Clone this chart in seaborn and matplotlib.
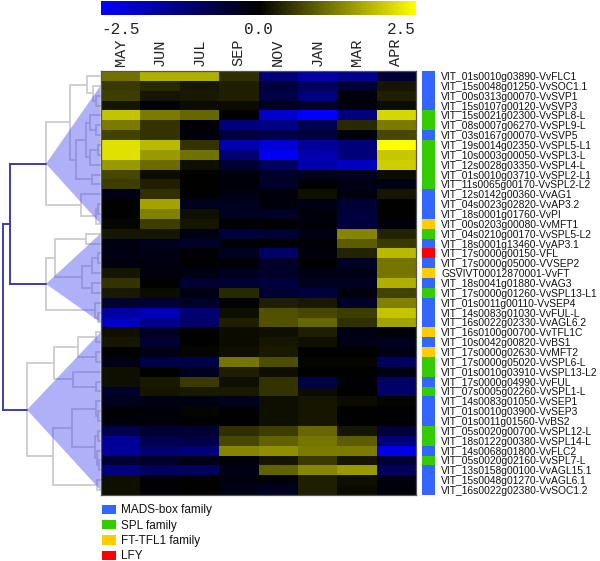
import matplotlib
matplotlib.use("Agg")
import matplotlib.pyplot as plt
from matplotlib.colors import LinearSegmentedColormap, ListedColormap
from matplotlib.patches import Patch, Polygon
import numpy as np
import seaborn as sns

months = ["MAY", "JUN", "JUL", "SEP", "NOV", "JAN", "MAR", "APR"]

genes = [
    "VIT_01s0010g03890-VvFLC1", "VIT_15s0048g01250-VvSOC1.1", "VIT_00s0313g00070-VvSVP1",
    "VIT_15s0107g00120-VvSVP3", "VIT_15s0021g02300-VvSPL8-L", "VIT_08s0007g06270-VvSPL9-L",
    "VIT_03s0167g00070-VvSVP5", "VIT_19s0014g02350-VvSPL5-L1", "VIT_10s0003g00050-VvSPL3-L",
    "VIT_12s0028g03350-VvSPL4-L", "VIT_01s0010g03710-VvSPL2-L1", "VIT_11s0065g00170-VvSPL2-L2",
    "VIT_12s0142g00360-VvAG1", "VIT_04s0023g02820-VvAP3.2", "VIT_18s0001g01760-VvPI",
    "VIT_00s0203g00080-VvMFT1", "VIT_04s0210g00170-VvSPL5-L2", "VIT_18s0001g13460-VvAP3.1",
    "VIT_17s0000g00150-VFL", "VIT_17s0000g05000-VVSEP2", "GSVIVT00012870001-VvFT",
    "VIT_18s0041g01880-VvAG3", "VIT_17s0000g01260-VvSPL13-L1", "VIT_01s0011g00110-VvSEP4",
    "VIT_14s0083g01030-VvFUL-L", "VIT_16s0022g02330-VvAGL6.2", "VIT_16s0100g00700-VvTFL1C",
    "VIT_10s0042g00820-VvBS1", "VIT_17s0000g02630-VvMFT2", "VIT_17s0000g05020-VvSPL6-L",
    "VIT_01s0010g03910-VvSPL13-L2", "VIT_17s0000g04990-VvFUL", "VIT_07s0005g02260-VvSPL1-L",
    "VIT_14s0083g01050-VvSEP1", "VIT_01s0010g03900-VvSEP3", "VIT_01s0011g01560-VvBS2",
    "VIT_05s0020g00700-VvSPL12-L", "VIT_18s0122g00380-VvSPL14-L", "VIT_14s0068g01800-VvFLC2",
    "VIT_05s0020g02160-VvSPL7-L", "VIT_13s0158g00100-VvAGL15.1", "VIT_15s0048g01270-VvAGL6.1",
    "VIT_16s0022g02380-VvSOC1.2",
]

# 0 MADS-box, 1 SPL, 2 FT-TFL1, 3 LFY
families = [0, 0, 0, 0, 1, 1, 0, 1, 1, 1, 1, 1, 0, 0, 0, 2, 1, 0, 3, 0, 2, 0,
            1, 0, 0, 0, 2, 0, 2, 1, 1, 0, 1, 0, 0, 0, 1, 1, 0, 1, 0, 0, 0]
family_names = ["MADS-box family", "SPL family", "FT-TFL1 family", "LFY"]
family_colors = ["#3366ff", "#33cc00", "#ffcc00", "#ff0000"]

expression = [
    [1.1, 1.7, 1.7, 0.45, -1.2, -1.6, -1.4, -0.5],
    [0.55, 0.4, 0.2, 0.3, -0.6, -0.9, -0.5, 0.2],
    [0.6, 0.2, 0.25, 0.3, -0.7, -1.2, -0.1, 0.3],
    [0.2, -0.1, 0.1, 0.1, -0.3, -0.4, -0.1, 0.1],
    [1.9, 1.2, 1.0, -0.05, -2.0, -2.5, -1.2, 2.1],
    [1.2, 0.5, -0.05, -1.2, -1.3, -0.8, 0.4, 1.2],
    [0.65, 0.5, -0.1, -0.6, -0.7, -0.6, -0.1, 0.7],
    [2.2, 1.8, 0.5, -1.7, -2.1, -1.5, -1.2, 2.5],
    [2.2, 1.5, 1.1, -1.1, -2.4, -1.7, -1.2, 1.95],
    [1.5, 1.05, 0.15, -0.5, -0.9, -1.7, -1.9, 2.0],
    [0.7, 0.1, 0.0, -0.1, -0.4, -0.3, -0.3, 0.1],
    [0.6, 0.3, 0.0, -0.1, -0.4, -0.05, -0.2, -0.2],
    [-0.2, 0.45, 0.0, -0.2, -0.1, 0.15, -0.15, 0.2],
    [0.0, 1.6, -0.3, -0.3, -0.1, -0.2, -0.5, 0.0],
    [0.0, 1.25, 0.15, -0.3, -0.4, -0.1, -0.6, 0.0],
    [0.05, 0.6, 0.2, -0.05, -0.05, -0.1, -0.6, -0.1],
    [0.2, 0.2, -0.2, -0.6, -0.5, -0.2, 1.3, 0.35],
    [-0.2, -0.3, -0.4, -0.1, -0.05, -0.05, 0.9, 0.55],
    [-0.2, -0.2, -0.05, -0.3, -1.0, -0.1, 0.35, 1.8],
    [-0.15, -0.15, -0.05, -0.1, -0.4, -0.05, -0.4, 1.15],
    [0.2, -0.15, -0.2, -0.3, -0.4, -0.2, -0.2, 1.15],
    [0.5, 0.0, -0.5, -0.5, -0.6, -0.3, -0.3, 1.7],
    [0.25, 0.1, -0.2, 0.4, -0.5, -0.6, -0.15, 0.65],
    [-0.5, -0.5, -0.4, -0.05, 0.3, 0.25, -0.4, 1.25],
    [-1.6, -1.8, -1.1, 0.15, 0.8, 0.7, 0.6, 1.9],
    [-1.9, -1.4, -1.0, 0.3, 0.8, 1.0, 0.45, 1.6],
    [0.15, -0.35, 0.0, 0.1, 0.15, 0.3, -0.2, -0.1],
    [0.2, -0.5, 0.0, 0.1, 0.2, 0.15, -0.2, -0.3],
    [0.0, -0.2, 0.05, 0.15, 0.25, 0.0, 0.0, -0.2],
    [-0.2, -0.7, -0.7, 1.15, 0.75, 0.05, 0.05, -0.9],
    [0.15, 0.0, -0.3, 0.3, 0.15, 0.0, 0.0, -0.2],
    [0.15, 0.25, 0.55, 0.15, 0.5, -0.7, -0.05, -1.0],
    [-0.4, 0.2, 0.25, 0.25, 0.5, 0.1, 0.0, -1.0],
    [-0.3, -0.2, -0.2, -0.3, 0.15, 0.2, 0.1, 0.05],
    [-0.05, -0.1, 0.05, -0.05, 0.15, 0.2, 0.0, -0.05],
    [-0.1, -0.1, 0.0, 0.0, 0.15, 0.2, 0.0, -0.05],
    [-0.8, -0.5, -0.5, 0.45, 0.6, 1.0, 0.2, -0.6],
    [-1.5, -0.8, -0.7, 0.7, 0.95, 1.15, 0.9, -1.2],
    [-1.5, -1.1, -1.2, 1.3, 1.4, 1.2, 1.2, -2.2],
    [-0.5, -0.4, -0.2, -0.1, 0.2, 0.55, 0.2, -0.5],
    [-1.2, -0.9, -0.9, -0.2, 0.95, 1.3, 1.5, -0.9],
    [0.15, -0.05, 0.0, -0.15, -0.15, 0.3, 0.15, -0.1],
    [0.15, -0.05, 0.0, -0.2, -0.3, 0.3, 0.1, -0.1],
]

# dendrogram: (distance, upper child, lower child), a leaf is a row number
cluster_a = (46, (70, (87, 0, (93, 1, (96, 2, 3))),
                  (76, (86, (90, 4, (96, 5, 6)), (90, (98, 7, 8), 9)), (92, 10, 11))),
             (81, 12, (96, (98, 13, 14), 15)))
cluster_b = (46, (55, (86, 16, 17), (82, (92, (98, 18, 19), 20), (92, 21, 22))),
             (95, 23, (98, 24, 25)))
cluster_c = (27, (53.5, (78, (96, 26, 27), (96, 28, 29)), (73, 30, (96, 31, 32))),
             (52.5, (72, (96, 33, (98, 34, 35)), (95, (98, 36, 37), (97, 38, (99, 39, 40)))),
              (97, 41, 42)))
upper_join = 10
root_join = 2.5
# first and last row covered by each shaded wedge
wedge_rows = [(1, 15), (16, 25), (26, 42)]

WIDTH, HEIGHT = 600, 561
GRAY = "#cccccc"
NAVY = "#3c3cb0"
sns.set_theme(style="white")
plt.rcParams["font.family"] = ["Liberation Sans", "DejaVu Sans"]
LEAF_X = 100.5


def px_axes(fig, x0, y0, x1, y1):
    return fig.add_axes([x0 / WIDTH, 1 - y1 / HEIGHT, (x1 - x0) / WIDTH, (y1 - y0) / HEIGHT])


def draw_tree(ax, node):
    # returns the row position of the node, leaves sit at the heatmap edge
    if not isinstance(node, tuple):
        return node + 0.5, LEAF_X
    dist, upper, lower = node
    y1, x1 = draw_tree(ax, upper)
    y2, x2 = draw_tree(ax, lower)
    ax.plot([x1, dist, dist, x2], [y1, y1, y2, y2], color=GRAY, lw=1.3, zorder=1, solid_joinstyle="miter")
    return (y1 + y2) / 2, dist


blue_black_yellow = LinearSegmentedColormap.from_list("byk", ["#0000ff", "#000000", "#ffff00"])
data = np.array(expression)

fig = plt.figure(figsize=(WIDTH / 100, HEIGHT / 100), dpi=100, facecolor="white")
ax_cbar = px_axes(fig, 101, 1, 416, 15)
ax_heat = px_axes(fig, 101, 71, 416, 495)
ax_side = px_axes(fig, 421.5, 71, 435, 495)
ax_tree = px_axes(fig, 0, 71, LEAF_X, 495)

sns.heatmap(data, ax=ax_heat, cmap=blue_black_yellow, vmin=-2.5, vmax=2.5,
            xticklabels=months, yticklabels=False, cbar_ax=ax_cbar,
            cbar_kws={"orientation": "horizontal", "ticks": [-2.5, 0, 2.5]})
ax_heat.xaxis.tick_top()
ax_heat.tick_params(axis="x", length=0, pad=3.5)
for label in ax_heat.get_xticklabels():
    label.set(rotation=90, family="Liberation Mono", fontsize=11, color="#222222", ha="center", va="bottom")
for spine in ax_heat.spines.values():
    spine.set(visible=True, color="#555555", linewidth=0.9)

ax_cbar.tick_params(axis="x", length=0, pad=5)
ax_cbar.set_xticklabels(["-2.5", "0.0", "2.5"], family="Liberation Mono", fontsize=11.5, color="#222222")
tick_labels = ax_cbar.get_xticklabels()
tick_labels[0].set_ha("left")
tick_labels[2].set_ha("right")
for spine in ax_cbar.spines.values():
    spine.set_visible(False)

sns.heatmap(np.array(families).reshape(-1, 1), ax=ax_side, cmap=ListedColormap(family_colors),
            vmin=-0.5, vmax=3.5, cbar=False, xticklabels=False,
            yticklabels=genes)
ax_side.yaxis.tick_right()
ax_side.tick_params(axis="y", length=0, pad=4.5)
for label in ax_side.get_yticklabels():
    label.set(rotation=0, fontsize=7.35, color="#111111")

# dendrogram
ax_tree.set_xlim(0, LEAF_X)
ax_tree.set_ylim(len(genes), 0)
ax_tree.axis("off")
nodes = []
for cluster, rows in zip([cluster_a, cluster_b, cluster_c], wedge_rows):
    y, x = draw_tree(ax_tree, cluster)
    nodes.append((y, x))
    ax_tree.add_patch(Polygon([[x, y], [LEAF_X, rows[0] + 0.5], [LEAF_X, rows[1] + 0.5]], closed=True,
                              facecolor="#5050f0", alpha=0.45, edgecolor="none", zorder=2))
y_ab = (nodes[0][0] + nodes[1][0]) / 2
ax_tree.plot([nodes[0][1], upper_join, upper_join, nodes[1][1]],
             [nodes[0][0], nodes[0][0], nodes[1][0], nodes[1][0]], color=NAVY, lw=1.4, zorder=3, solid_joinstyle="miter")
ax_tree.plot([upper_join, root_join, root_join, nodes[2][1]],
             [y_ab, y_ab, nodes[2][0], nodes[2][0]], color=NAVY, lw=1.4, zorder=3, solid_joinstyle="miter")

handles = [Patch(facecolor=c, edgecolor="none", label=n) for c, n in zip(family_colors, family_names)]
fig.legend(handles=handles, loc="upper left", bbox_to_anchor=(101.5 / WIDTH, 1 - 504.5 / HEIGHT),
           frameon=False, fontsize=8.5, borderpad=0, borderaxespad=0, labelspacing=0.28,
           handlelength=1.2, handleheight=0.85, handletextpad=0.48, labelcolor="#111111")

fig.savefig("out.png", dpi=100)
